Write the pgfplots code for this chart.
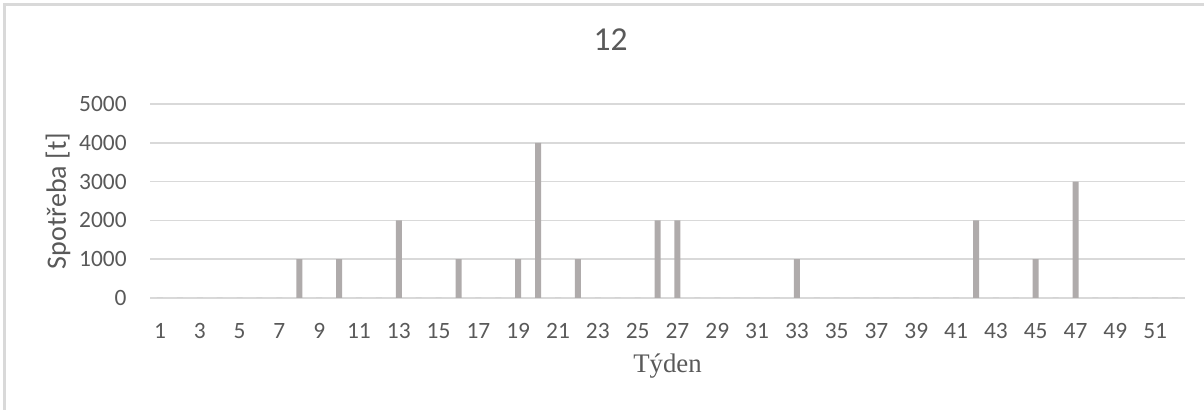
\documentclass[border=0pt]{standalone}
\usepackage{pgfplots}
\pgfplotsset{compat=1.18}
\usepackage{fontspec}
\setmainfont{Carlito}
\newfontfamily\serifx{Liberation Serif}
\definecolor{gridc}{HTML}{D9D9D9}
\definecolor{txt}{HTML}{595959}
\definecolor{barc}{HTML}{AFABAB}
\pgfplotstableread{
week val
1 0
2 0
3 0
4 0
5 0
6 0
7 0
8 1000
9 0
10 1000
11 0
12 0
13 2000
14 0
15 0
16 1000
17 0
18 0
19 1000
20 4000
21 0
22 1000
23 0
24 0
25 0
26 2000
27 2000
28 0
29 0
30 0
31 0
32 0
33 1000
34 0
35 0
36 0
37 0
38 0
39 0
40 0
41 0
42 2000
43 0
44 0
45 1000
46 0
47 3000
48 0
49 0
50 0
51 0
52 0
}\datatable
\begin{document}
\begin{tikzpicture}
\useasboundingbox (0pt,0pt) rectangle (602pt,205pt);
\draw[color=gridc, line width=1.25pt] (2.25pt,0pt) -- (2.25pt,202.75pt) -- (602pt,202.75pt);
\begin{axis}[
  at={(75pt,56pt)}, anchor=south west,
  scale only axis, width=517.5pt, height=97pt,
  xmin=0.5, xmax=52.5, ymin=0, ymax=5000,
  xtick={1,3,...,51}, ytick={0,1000,...,5000},
  axis line style={draw=none},
  major tick length=0pt,
  ymajorgrids, grid style={color=gridc, line width=0.75pt},
  /pgf/number format/assume math mode=true,
  /pgf/number format/1000 sep={},
  tick label style={font=\fontsize{11.7}{13}\selectfont, text=txt, inner sep=0pt},
  xticklabel style={anchor=center, yshift=-16.5pt},
  yticklabel style={anchor=east, xshift=-11.5pt},
  title={12},
  title style={font=\fontsize{16.75}{19}\selectfont, text=txt, at={(axis description cs:0.445,1.268)}, anchor=center, inner sep=0pt},
  ylabel={Spotřeba [t]},
  ylabel style={font=\fontsize{14}{16}\selectfont, text=txt, at={(axis description cs:-0.0889,0.5)}, anchor=center, inner sep=0pt},
  xlabel={Týden},
  xlabel style={font=\serifx\fontsize{13.4}{15}\selectfont, text=txt, at={(axis description cs:0.5,-0.35)}, anchor=center, inner sep=0pt},
  clip=false,
]
\addplot[ybar, bar width=3pt, fill=barc, draw=none] table[x=week, y=val] {\datatable};
\end{axis}
\end{tikzpicture}
\end{document}
